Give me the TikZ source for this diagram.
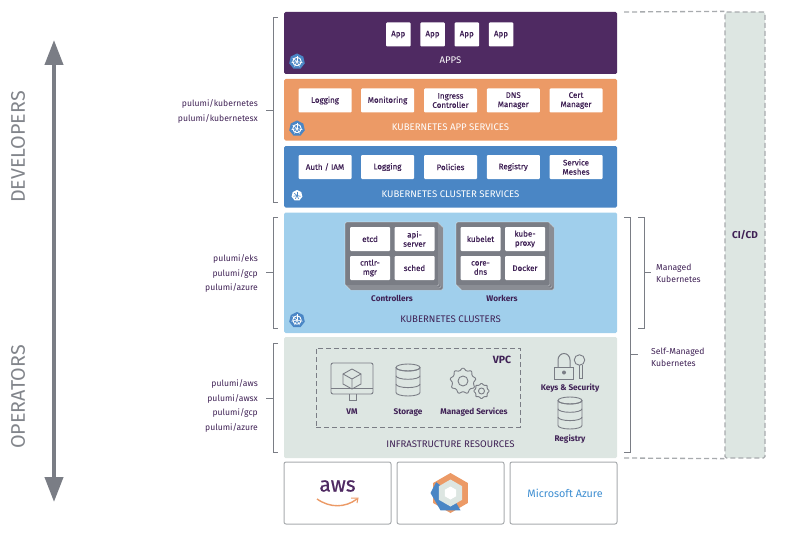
\documentclass[tikz,border=0pt]{standalone}
\usepackage{fontspec}
\setmainfont{Fira Sans}
\newfontfamily\tilefont[FakeBold=0.4]{Fira Sans}
\usetikzlibrary{shapes.geometric,positioning,arrows.meta,calc}

\definecolor{inkpurple}{HTML}{3F2155}
\definecolor{appspurple}{HTML}{4F2A62}
\definecolor{svcorange}{HTML}{EC9A66}
\definecolor{clusterblue}{HTML}{4A86C5}
\definecolor{skyblue}{HTML}{A0CFEC}
\definecolor{mistgreen}{HTML}{DDE6E2}
\definecolor{linegray}{HTML}{7A7D85}
\definecolor{dashgray}{HTML}{A8ABAE}
\definecolor{labelgray}{HTML}{82858B}
\definecolor{azureblue}{HTML}{3F8FD2}

\tikzset{
    kube/.pic={
        \node[regular polygon, regular polygon sides=7, fill=clusterblue, minimum size=16pt, inner sep=0] (-hub) at (0,0) {};
        \draw[white, line width=0.9pt] (0,0) circle (4.2pt);
        \foreach \a in {0,51.4,...,308} {
            \draw[white, line width=0.6pt] (0,0) -- (\a+90:5.6pt);
        }
    },
    dbstack/.pic={
        \draw[linegray, fill=mistgreen, line width=0.9pt] (-12,0) -- (-12,25) arc[start angle=180, end angle=0, x radius=12, y radius=3.5] -- (12,0);
        \foreach \y in {0,8.3,16.6} {
            \draw[linegray, line width=0.9pt] (-12,\y) arc[start angle=180, end angle=0, x radius=12, y radius=3.5];
        }
        \draw[linegray, line width=0.9pt] (0,0) ellipse[x radius=12, y radius=3.5];
    }
}

\begin{document}
\begin{tikzpicture}[
    x=1pt, y=-1pt,
    panel/.style={rounded corners=1.5pt, minimum width=333pt, inner sep=0},
    paneltitle/.style={font=\fontsize{9.6}{11}\selectfont},
    tile/.style={fill=white, rounded corners=1pt, inner sep=0, align=center, text=inkpurple, font=\fontsize{8}{9.2}\selectfont\tilefont},
    cell/.style={tile, minimum width=40pt, minimum height=24pt},
    rack/.style={fill=linegray, rounded corners=1.5pt, draw=white, line width=0.3pt, minimum width=94pt, minimum height=64pt, inner sep=0},
    cloud/.style={draw=dashgray, line width=1pt, fill=white, rounded corners=2pt, minimum width=107pt, minimum height=62pt, inner sep=0},
    caption/.style={text=inkpurple, font=\fontsize{8.2}{10}\selectfont\bfseries},
    repos/.style={align=right, text=inkpurple, yshift=-1.5pt, font=\fontsize{8.6}{14.6}\selectfont},
    sidenote/.style={align=left, text=inkpurple, font=\fontsize{8.6}{12}\selectfont},
    brace/.style={draw=linegray, line width=0.7pt},
    icon/.style={draw=linegray, line width=0.9pt},
    role/.style={rotate=90, text=labelgray, font=\fontsize{19.7}{21}\selectfont},
    dashbox/.style={draw=dashgray, line width=1.3pt, dash pattern=on 5pt off 3pt}
]

\useasboundingbox (0,0) rectangle (788,551);

% Layers
\node[panel, fill=appspurple, minimum height=62pt] (apps) at (450.5,43) {};
\node[panel, fill=svcorange, minimum height=61.5pt] (appsvc) at (450.5,109.75) {};
\node[panel, fill=clusterblue, minimum height=61.5pt] (clustersvc) at (450.5,176.75) {};
\node[panel, fill=skyblue, minimum height=120.5pt] (clusters) at (450.5,272.75) {};
\node[panel, fill=mistgreen, minimum height=121pt] (infra) at (450.5,397.5) {};

\node[paneltitle, text=white] (appstitle) at (450.5,60.5) {APPS};
\node[paneltitle, text=white] (appsvctitle) at (450.5,127.5) {KUBERNETES APP SERVICES};
\node[paneltitle, text=white] (clustersvctitle) at (450.5,194.5) {KUBERNETES CLUSTER SERVICES};
\node[paneltitle, text=inkpurple] (clusterstitle) at (450.5,319.5) {KUBERNETES CLUSTERS};
\node[paneltitle, text=inkpurple] (infratitle) at (450.5,444) {INFRASTRUCTURE RESOURCES};

% Kubernetes badges
\pic (hubapps) at (297,61.5) {kube};
\pic (hubappsvc) at (297,128.5) {kube};
\node[regular polygon, regular polygon sides=7, fill=white, minimum size=11pt, inner sep=0] (hubclustersvc) at (297,195.5) {};
\foreach \a in {0,51.4,...,308} {
    \draw[clusterblue, line width=0.6pt] (hubclustersvc.center) -- ++(\a+90:3.6pt);
}
\pic (hubclusters) at (297,320) {kube};

% App tiles
\foreach \nm/\x in {appa/398.25,appb/432.5,appc/466.75,appd/501} {
    \node[tile, minimum width=24.5pt, minimum height=24pt] (\nm) at (\x,34.5) {App};
}

% Service tiles
\foreach \nm/\x/\txt in {logging/325/Logging,monitoring/387.5/Monitoring,ingress/450.5/{Ingress\\Controller},dns/513.25/{DNS\\Manager},cert/576/{Cert\\Manager}} {
    \node[tile, minimum width=53pt, minimum height=24pt] (\nm) at (\x,100.5) {\txt};
}
\foreach \nm/\x/\txt in {auth/325/{Auth / IAM},clusterlog/387.5/Logging,policies/450.5/Policies,registry/513.25/Registry,meshes/576/{Service\\Meshes}} {
    \node[tile, minimum width=53pt, minimum height=24pt] (\nm) at (\x,167) {\txt};
}

% Controllers and workers
\foreach \d in {4,2,0} {
    \node[rack] (ctlrack\d) at (392+\d,254+\d) {};
    \node[rack] (wrkrack\d) at (503+\d,254+\d) {};
}
\foreach \nm/\x/\y/\txt in {etcd/370/239/etcd,apisrv/414.5/239/{api-\\server},cntlr/370/268/{cntlr-\\mgr},sched/414.5/268/sched,
                            kubelet/480.5/239/kubelet,kubeproxy/525/239/{kube-\\proxy},coredns/480.5/268/{core-\\dns},docker/525/268/Docker} {
    \node[cell] (\nm) at (\x,\y) {\txt};
}
\node[caption] (controllers) at (392,298) {Controllers};
\node[caption] (workers) at (502,298) {Workers};

% VPC
\node[draw=linegray, line width=0.7pt, dash pattern=on 5pt off 3pt, minimum width=204pt, minimum height=79pt, inner sep=0] (vpc) at (418,387.5) {};
\node[caption, font=\fontsize{10.5}{12}\selectfont\bfseries] (vpclabel) at (502,360) {VPC};

% VM icon
\draw[icon, rounded corners=2pt] (331,363) rectangle (373,394);
\draw[icon] (331,388) -- (373,388);
\draw[icon] (349,394) -- (349,400) -- (356,400) -- (356,394);
\draw[icon, line join=round] (352,369) -- (361,374) -- (361,384) -- (352,389) -- (343,384) -- (343,374) -- cycle;
\draw[icon, line join=round] (343,374) -- (352,379) -- (361,374) (352,379) -- (352,389);
\node[caption] (vmlabel) at (352,412) {VM};

% Storage and registry icons
\pic at (408,367.5) {dbstack};
\node[caption] (storagelabel) at (408,412) {Storage};
\pic at (570,400.5) {dbstack};
\node[caption] (registrylabel) at (570,439) {Registry};

% Gears
\node[star, star points=9, star point ratio=1.3, icon, fill=mistgreen, rounded corners=1pt, minimum size=27pt, inner sep=0] (biggear) at (463,381) {};
\node[circle, icon, minimum size=10pt, inner sep=0] (bighole) at (463,381) {};
\node[star, star points=8, star point ratio=1.3, icon, fill=mistgreen, rounded corners=0.7pt, minimum size=16pt, inner sep=0] (smallgear) at (481.5,391) {};
\node[circle, icon, minimum size=6pt, inner sep=0] (smallhole) at (481.5,391) {};
\node[caption] (gearlabel) at (474,412) {Managed Services};

% Lock and key
\draw[icon, line width=1pt] (558,367) -- (558,360) arc[start angle=180, end angle=360, x radius=6, y radius=6.5] -- (570,367);
\draw[icon, fill=mistgreen, line width=1pt] (554.5,367) rectangle (573,379);
\node[circle, fill=linegray, minimum size=4pt, inner sep=0] (keyhole) at (564,372.5) {};
\draw[icon, fill=mistgreen] (579,365) -- (579,378) -- (582,378) -- (582,365);
\node[circle, icon, fill=mistgreen, minimum size=10.5pt, inner sep=0] (keyhead) at (579.5,360) {};
\node[caption] (keyslabel) at (570,388) {Keys \& Security};

% Cloud providers
\node[cloud] (awsbox) at (337.5,493) {};
\node[cloud] (gcpbox) at (450.5,493) {};
\node[cloud] (azurebox) at (563.5,493) {};
\node[text=azureblue, font=\fontsize{10.8}{13}\selectfont] (azurelabel) at (565,493) {Microsoft Azure};
\node[text=appspurple, font=\fontsize{21}{22}\selectfont\tilefont] (awslabel) at (337.5,486) {aws};
\coordinate (smileleft) at (317,499);
\coordinate (smileright) at (357,499);
\draw[svcorange, line width=1.4pt] (smileleft) .. controls (330,508) and (345,508) .. (smileright);
\draw[svcorange, line width=1pt] (351,498) -- (358,498) -- (357,503);

% Google hexagon
\node[regular polygon, regular polygon sides=6, shape border rotate=30, fill=svcorange, minimum size=40pt, inner sep=0] (gcphex) at (450.5,493) {};
\fill[clusterblue] (gcphex.center) -- ($(gcphex.center)+(217:18)$) -- ($(gcphex.center)+(180:20)$) -- ($(gcphex.center)+(120:20)$) -- ($(gcphex.center)+(60:20)$) -- cycle;
\node[regular polygon, regular polygon sides=6, shape border rotate=30, fill=mistgreen, minimum size=27pt, inner sep=0] (gcpring) at (450.5,493) {};
\node[regular polygon, regular polygon sides=6, shape border rotate=30, fill=white, minimum size=13pt, inner sep=0] (gcphole) at (450.5,493) {};

% Repository brackets
\foreach \nm/\ytop/\ymid/\ybot in {dev/17/110/202,eks/217/272/328,ops/343/398/452} {
    \coordinate (\nm top) at (278,\ytop);
    \coordinate (\nm bot) at (278,\ybot);
    \coordinate (\nm mid) at (273,\ymid);
    \coordinate (\nm tip) at (266,\ymid);
    \draw[brace] (\nm top) -- ++(-5,0) |- (\nm bot);
    \draw[brace] (\nm mid) -- (\nm tip);
}
\node[repos, left=4.7pt of devtip] (devrepos) {pulumi/kubernetes\\pulumi/kubernetesx};
\node[repos, left=4.7pt of ekstip] (eksrepos) {pulumi/eks\\pulumi/gcp\\pulumi/azure};
\node[repos, left=4.7pt of opstip, yshift=-6.5pt] (opsrepos) {pulumi/aws\\pulumi/awsx\\pulumi/gcp\\pulumi/azure};

% Developers to operators axis
\coordinate (axistop) at (54,40);
\coordinate (axisbot) at (54,502);
\draw[{Triangle[length=25pt,width=18pt]}-{Triangle[length=25pt,width=18pt]}, linegray, line width=4pt] (axistop) -- (axisbot);
\node[role] (developers) at (18,147) {DEVELOPERS};
\node[role] (operators) at (18,397) {OPERATORS};

% CI/CD column
\node[dashbox, fill=mistgreen, rounded corners=1.5pt, minimum width=40pt, minimum height=446pt, inner sep=0] (cicd) at (745,235) {};
\node[caption, font=\fontsize{10}{12}\selectfont\bfseries] (cicdlabel) at (745,235) {CI/CD};
\coordinate (dashtop) at (624,12);
\coordinate (dashbot) at (624,458);
\draw[dashbox] (dashtop) -- (cicd.north west);
\draw[dashbox] (dashbot) -- (cicd.south west);

% Managed brackets
\coordinate (mgdtop) at (638,217);
\coordinate (mgdbot) at (638,328);
\coordinate (mgdmid) at (644,272);
\coordinate (mgdtip) at (651,272);
\draw[brace] (mgdtop) -- ++(6,0) |- (mgdbot);
\draw[brace] (mgdmid) -- (mgdtip);
\node[sidenote, right=1.7pt of mgdtip, yshift=-1pt] (mgdnote) {Managed\\Kubernetes};

\coordinate (selftop) at (624,217);
\coordinate (selfbot) at (624,452.5);
\coordinate (selfmid) at (630,354);
\coordinate (selftip) at (638,354);
\draw[brace] (selftop) -- ++(6,0) |- (selfbot);
\draw[brace] (selfmid) -- (selftip);
\node[sidenote, right=9.7pt of selftip, yshift=-3pt] (selfnote) {Self-Managed\\Kubernetes};

\end{tikzpicture}
\end{document}
